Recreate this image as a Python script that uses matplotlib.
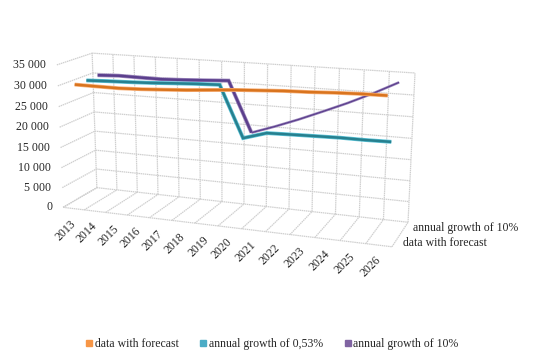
import numpy as np
import matplotlib
matplotlib.use("Agg")
import matplotlib.pyplot as plt
import matplotlib.patheffects as pe
from matplotlib.lines import Line2D
from matplotlib.path import Path
from matplotlib.transforms import Transform

plt.rcParams['font.family'] = ['Liberation Serif', 'DejaVu Serif']

years = [str(y) for y in range(2013, 2027)]
value_ticks = [0, 5000, 10000, 15000, 20000, 25000, 30000, 35000]
tick_labels = ['0', '5 000', '10 000', '15 000', '20 000', '25 000', '30 000', '35 000']
forecast = [29960, 29900, 29850, 30010, 30290, 30590, 31000, 31410, 31690, 31970, 32110, 32360, 32510, 32550]
growth_053 = [29890, 30080, 30220, 30410, 30690, 30940, 31110, 18940, 20620, 20760, 20880, 20990, 20960, 21040]
growth_10 = [30130, 30370, 30280, 30220, 30430, 30710, 31010, 18880, 20840, 22980, 25310, 27710, 30340, 33230]

W, H = 541, 363
VMAX = 35000.0
NC = len(years)

# camera fitted on the corners of the chart box: (category, depth, value) -> pixel
corners = [((0, 0, 0), (63, 207)), ((1, 0, 0), (392, 247)), ((0, 1, 0), (97, 188)),
           ((1, 1, 0), (408, 222)), ((0, 1, 1), (92, 53)), ((1, 1, 1), (415, 73)),
           ((0, 0, 1), (57, 65))]
A, b = [], []
for (X, Y, Z), (px, py) in corners:
    A.append([X, Y, Z, 1, 0, 0, 0, 0, -px * X, -px * Y, -px * Z]); b.append(px)
    A.append([0, 0, 0, 0, X, Y, Z, 1, -py * X, -py * Y, -py * Z]); b.append(py)
P = np.append(np.linalg.lstsq(np.array(A, float), np.array(b, float), rcond=None)[0], 1).reshape(3, 4)


class Box(Transform):
    """Maps two of (category, depth, value) to display pixels, the third is fixed."""
    input_dims = output_dims = 2
    has_inverse = False

    def __init__(self, at_depth=None, at_cat=None, at_value=None):
        super().__init__()
        self.at_depth, self.at_cat, self.at_value = at_depth, at_cat, at_value

    def transform_non_affine(self, pts):
        pts = np.asarray(pts, float)
        a, c = pts[:, 0], pts[:, 1]
        if self.at_depth is not None:      # (cat, value)
            u, v, w = a / NC, np.full_like(a, self.at_depth), c / VMAX
        elif self.at_value is not None:    # (cat, depth)
            u, v, w = a / NC, c, np.full_like(a, self.at_value / VMAX)
        else:                              # (depth, value)
            u, v, w = np.full_like(a, self.at_cat / NC), a, c / VMAX
        q = P @ np.vstack([u, v, w, np.ones_like(u)])
        return np.column_stack([q[0] / q[2], H - q[1] / q[2]])

    def transform_path_non_affine(self, path):
        return Path(self.transform_non_affine(path.vertices), path.codes)


fig = plt.figure(figsize=(W / 100, H / 100), dpi=100)
ax = fig.add_axes([0, 0, 1, 1])
ax.set_xlim(0, NC)
ax.set_ylim(0, VMAX)
ax.axis('off')

grid = dict(color='#cfcfcf', lw=0.9, ls=(0, (1.2, 0.5)), zorder=1, clip_on=False)
back, front, floor, left = Box(at_depth=1), Box(at_depth=0), Box(at_value=0), Box(at_cat=0)
for v in value_ticks:
    ax.plot([0, NC], [v, v], transform=back, **grid)
    ax.plot([0, 1], [v, v], transform=left, **grid)
for i in range(NC + 1):
    ax.plot([i, i], [0, VMAX], transform=back, **grid)
    ax.plot([i, i], [0, 1], transform=floor, **grid)
ax.plot([0, NC], [0, 0], transform=front, **grid)

x = np.arange(NC) + 0.5


def ribbon(vals, xs, depth, light, dark, lw, z):
    ax.plot(xs, vals, transform=Box(at_depth=depth), color=dark, lw=lw, zorder=z,
            clip_on=False, solid_joinstyle='miter', solid_capstyle='butt',
            path_effects=[pe.withStroke(linewidth=lw + 1.0, foreground=light)])


ribbon(growth_10[7:], x[7:], 5 / 6, '#a08cc0', '#5b3f8c', 0.9, 3)
ribbon(growth_10[:8], x[:8], 5 / 6, '#a08cc0', '#5b3f8c', 1.8, 3)
ribbon(growth_053, x, 3 / 6, '#5cc4d8', '#27808f', 1.8, 4)
ribbon(forecast, x, 1 / 6, '#f8b27c', '#d9741e', 1.8, 5)

txt = dict(fontsize=8.5, color='#262626')
for lab, v in zip(tick_labels, value_ticks):
    ax.annotate(lab, (0, v), xycoords=front, xytext=(-11, 0), textcoords='offset pixels',
                ha='right', va='center', **txt)
for xi, lab in zip(x, years):
    ax.annotate(lab, (xi, 0), xycoords=front, xytext=(-4, -9), textcoords='offset pixels',
                ha='right', va='top', rotation=45, rotation_mode='anchor', **txt)
side = Box(at_cat=NC)
ax.annotate('data with forecast', (1 / 6, 0), xycoords=side, xytext=(8, -1), textcoords='offset pixels',
            ha='left', va='center', **txt)
ax.annotate('annual growth of 10%', (5 / 6, 0), xycoords=side, xytext=(7, -2), textcoords='offset pixels',
            ha='left', va='center', **txt)

handles = [Line2D([], [], ls='', marker='s', ms=4.5, color=c) for c in ('#f79646', '#4bacc6', '#8064a2')]
fig.legend(handles, ['data with forecast', 'annual growth of 0,53%', 'annual growth of 10%'],
           loc='center', bbox_to_anchor=(272.5 / W, 1 - 344 / H), ncol=3, frameon=False,
           fontsize=8.5, handlelength=0.5, handletextpad=0.25, columnspacing=1.8, labelcolor='#262626')
fig.savefig('out.png', dpi=100)
